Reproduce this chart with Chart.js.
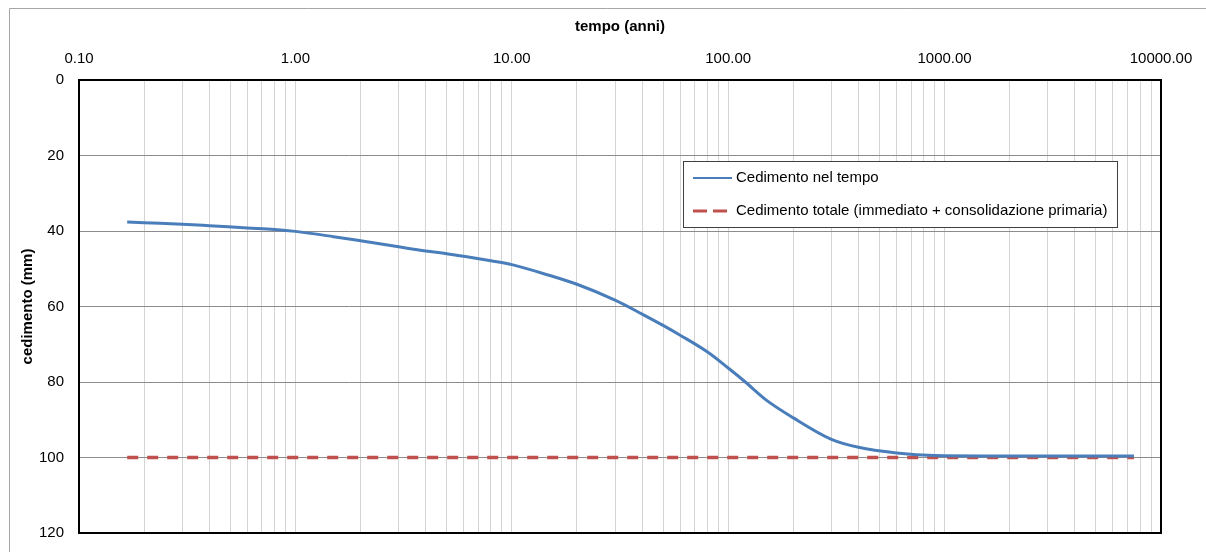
<!DOCTYPE html>
<html>
<head>
<meta charset="utf-8">
<title>Cedimento nel tempo</title>
<script src="https://cdn.jsdelivr.net/npm/chart.js@4.4.0/dist/chart.umd.min.js"></script>
<style>
    body { margin: 0; background: #fff; }
    #cedimento-wrap { width: 1206px; height: 552px; }
</style>
</head>
<body>
<div id="cedimento-wrap"><canvas id="cedimento-chart" width="1206" height="552"></canvas></div>
<script>
// tempo in anni / cedimento in mm
var tempo_values = [0.167, 0.2, 0.3, 0.4, 0.6, 0.8, 1, 1.5, 2, 3, 4, 5, 6, 8, 10, 15, 20, 30, 40, 50, 60, 80, 100, 120, 150, 200, 300, 400, 600, 900, 1500, 3000, 7500];
var cedimento_values = [37.6, 37.8, 38.2, 38.6, 39.2, 39.6, 40.1, 41.5, 42.6, 44.2, 45.3, 46.0, 46.7, 47.9, 48.9, 51.8, 54.1, 58.3, 62.0, 65.0, 67.6, 72.0, 76.3, 80.0, 84.8, 89.5, 95.2, 97.3, 98.8, 99.5, 99.6, 99.6, 99.6];

var totale_tempo = [0.167, 7500];
var totale_values = [100, 100];

var decade_values = [0.1, 1, 10, 100, 1000, 10000];
var y_tick_values = [0, 20, 40, 60, 80, 100, 120];

var series_labels = ['Cedimento nel tempo', 'Cedimento totale (immediato + consolidazione primaria)'];

var FONT = '"Liberation Sans", Arial, sans-serif';

function toPoints(xs, ys) {
    var points = [];
    for (var i = 0; i < xs.length; i++) {
        points.push({ x: xs[i], y: ys[i] });
    }
    return points;
}

function isDecade(v) {
    var l = Math.log10(v);
    return Math.abs(l - Math.round(l)) < 1e-9;
}

// gray frame of the chart area (top and left edge)
var framePlugin = {
    id: 'frame',
    beforeDraw: function (chart) {
        var ctx = chart.ctx;
        ctx.save();
        ctx.fillStyle = '#fff';
        ctx.fillRect(0, 0, chart.width, chart.height);
        ctx.strokeStyle = '#a6a6a6';
        ctx.lineWidth = 1;
        ctx.beginPath();
        ctx.moveTo(9.5, chart.height);
        ctx.lineTo(9.5, 8.5);
        ctx.lineTo(chart.width, 8.5);
        ctx.stroke();
        ctx.restore();
    }
};

// black box round the plot area
var plotBorderPlugin = {
    id: 'plotBorder',
    afterDatasetsDraw: function (chart) {
        var a = chart.chartArea;
        var ctx = chart.ctx;
        ctx.save();
        ctx.strokeStyle = '#000';
        ctx.lineWidth = 2;
        ctx.strokeRect(a.left, a.top, a.right - a.left, a.bottom - a.top);
        ctx.restore();
    }
};

function eachItem(list, fn) {
    for (var i = 0; i < list.length; i++) {
        fn(i, list[i]);
    }
}

// legend box placed inside the plot, like the excel one
var legendBoxPlugin = {
    id: 'legendBox',
    afterDraw: function (chart) {
        var ctx = chart.ctx;
        var left = 683, top = 161, width = 434, height = 66;
        ctx.save();
        ctx.fillStyle = '#fff';
        ctx.fillRect(left, top, width, height);
        ctx.strokeStyle = '#404040';
        ctx.lineWidth = 1;
        ctx.strokeRect(left + 0.5, top + 0.5, width, height);

        eachItem(chart.data.datasets, function (i, ds) {
            var y = top + 17 + i * 33;
            ctx.beginPath();
            ctx.strokeStyle = ds.borderColor;
            ctx.lineWidth = i === 0 ? 2 : 3;
            ctx.setLineDash(i === 0 ? [] : [14, 6]);
            ctx.moveTo(left + 10, y);
            ctx.lineTo(left + 49, y);
            ctx.stroke();
            ctx.setLineDash([]);
            ctx.fillStyle = '#000';
            ctx.font = '15px ' + FONT;
            ctx.textBaseline = 'middle';
            ctx.textAlign = 'left';
            ctx.fillText(ds.label, left + 53, y);
        });
        ctx.restore();
    }
};

var ctx = document.getElementById('cedimento-chart');
var CedimentoChart = new Chart(ctx, {
    type: 'line',
    data: {
        datasets: [{
            label: series_labels[0],
            data: toPoints(tempo_values, cedimento_values),
            borderColor: '#4a7ebb',
            borderWidth: 3,
            pointRadius: 0,
            fill: false,
            cubicInterpolationMode: 'monotone'
        }, {
            label: series_labels[1],
            data: toPoints(totale_tempo, totale_values),
            borderColor: '#c0504d',
            borderWidth: 3.5,
            borderDash: [11, 9],
            borderCapStyle: 'butt',
            pointRadius: 0,
            fill: false
        }]
    },
    plugins: [framePlugin, plotBorderPlugin, legendBoxPlugin],
    options: {
        responsive: false,
        animation: false,
        devicePixelRatio: 1,
        layout: {
            padding: { left: 0, top: 0, right: 45, bottom: 19 }
        },
        plugins: {
            legend: { display: false },
            tooltip: { enabled: false }
        },
        scales: {
            x: {
                type: 'logarithmic',
                position: 'top',
                min: 0.1,
                max: 10000,
                afterBuildTicks: function (scale) {
                    var ticks = [];
                    for (var d = 0; d < decade_values.length - 1; d++) {
                        for (var k = 1; k <= 9; k++) {
                            ticks.push({ value: decade_values[d] * k });
                        }
                    }
                    ticks.push({ value: decade_values[decade_values.length - 1] });
                    scale.ticks = ticks;
                },
                afterFit: function (scale) {
                    scale.height = 80;
                },
                ticks: {
                    autoSkip: false,
                    maxRotation: 0,
                    minRotation: 0,
                    padding: 12,
                    color: '#000',
                    font: { family: FONT, size: 15 },
                    callback: function (value) {
                        return isDecade(value) ? Number(value).toFixed(2) : '';
                    }
                },
                grid: {
                    color: '#d4d4d4',
                    lineWidth: 1,
                    drawTicks: false
                },
                border: { display: false },
                title: {
                    display: true,
                    text: 'tempo (anni)',
                    color: '#000',
                    font: { family: FONT, size: 15, weight: 'bold' },
                    padding: { top: 18, bottom: 0 }
                }
            },
            y: {
                type: 'linear',
                reverse: true,
                min: 0,
                max: 120,
                afterBuildTicks: function (scale) {
                    scale.ticks = y_tick_values.map(function (v) { return { value: v }; });
                },
                afterFit: function (scale) {
                    scale.width = 79;
                    scale.paddingTop = 0;
                    scale.paddingBottom = 0;
                },
                ticks: {
                    padding: 15,
                    color: '#000',
                    font: { family: FONT, size: 15 }
                },
                grid: {
                    color: '#8c8c8c',
                    lineWidth: 1,
                    drawTicks: false
                },
                border: { display: false },
                title: {
                    display: true,
                    text: 'cedimento (mm)',
                    color: '#000',
                    font: { family: FONT, size: 15, weight: 'bold' },
                    padding: { top: 19, bottom: 0 }
                }
            }
        }
    }
});
</script>
</body>
</html>
